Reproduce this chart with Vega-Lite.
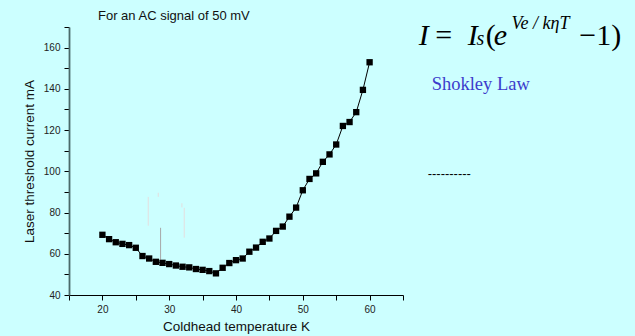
{
  "$schema": "https://vega.github.io/schema/vega-lite/v6.json",
  "autosize": {"type": "none"},
  "padding": {"left": 69, "top": 27, "right": 232, "bottom": 41},
  "width": 334,
  "height": 268,
  "background": "#ccffff",
  "title": {
    "text": "For an AC signal of 50 mV",
    "anchor": "start",
    "frame": "group",
    "dx": 29,
    "offset": -8,
    "font": "Liberation Sans",
    "fontSize": 13,
    "fontWeight": "normal",
    "color": "#111111"
  },
  "config": {
    "view": {"stroke": null},
    "axis": {
      "labelFont": "Liberation Sans",
      "titleFont": "Liberation Sans",
      "labelFontSize": 10,
      "titleFontSize": 13.5,
      "titleFontWeight": "normal",
      "labelColor": "#222222",
      "titleColor": "#111111",
      "grid": false,
      "tickSize": 5,
      "tickColor": "#000000",
      "domainColor": "#000000"
    }
  },
  "encoding": {
    "x": {
      "field": "T", "type": "quantitative",
      "title": "Coldhead temperature K",
      "scale": {"domain": [15, 65], "nice": false, "zero": false},
      "axis": {
        "values": [15, 20, 25, 30, 35, 40, 45, 50, 55, 60, 65],
        "labelExpr": "(datum.value % 10 == 0 && datum.value >= 20 && datum.value <= 60) ? datum.label : ''",
        "labelPadding": 4,
        "titlePadding": 5,
        "domainWidth": 1.2
      }
    },
    "y": {
      "field": "I", "type": "quantitative",
      "title": "Laser threshold current mA",
      "scale": {"domain": [40, 170], "nice": false, "zero": false},
      "axis": {
        "values": [40, 50, 60, 70, 80, 90, 100, 110, 120, 130, 140, 150, 160, 170],
        "labelExpr": "datum.value % 20 == 0 ? datum.label : ''",
        "labelPadding": 4,
        "titlePadding": 7,
        "domainColor": "#4a6a6a",
        "domainWidth": 1.8
      }
    }
  },
  "layer": [
    {
      "data": {"values": [
        {"T": 26.86, "I": 73.6, "I2": 87.6},
        {"T": 32.25, "I": 67.8, "I2": 82.3},
        {"T": 28.36, "I": 87.6, "I2": 89.6},
        {"T": 31.9, "I": 82.5, "I2": 84.5}
      ]},
      "mark": {"type": "rule", "color": "#e4dede", "strokeWidth": 1},
      "encoding": {"y2": {"field": "I2"}}
    },
    {
      "data": {"values": [
        {"T": 28.71, "I": 57.1, "I2": 72.6}
      ]},
      "mark": {"type": "rule", "color": "#a8a8a8", "strokeWidth": 1},
      "encoding": {"y2": {"field": "I2"}}
    },
    {
      "data": {"values": [
        {"T": 20, "I": 69.2}, {"T": 21, "I": 67.1}, {"T": 22, "I": 65.6}, {"T": 23, "I": 64.8},
        {"T": 24, "I": 64.2}, {"T": 25, "I": 62.9}, {"T": 26, "I": 58.9}, {"T": 27, "I": 57.7},
        {"T": 28, "I": 56.1}, {"T": 29, "I": 55.6}, {"T": 30, "I": 55.0}, {"T": 31, "I": 54.3},
        {"T": 32, "I": 53.7}, {"T": 33, "I": 53.4}, {"T": 34, "I": 52.6}, {"T": 35, "I": 52.2},
        {"T": 36, "I": 51.6}, {"T": 37, "I": 50.5}, {"T": 38, "I": 53.2}, {"T": 39, "I": 55.5},
        {"T": 40, "I": 56.9}, {"T": 41, "I": 57.7}, {"T": 42, "I": 61.0}, {"T": 43, "I": 63.0},
        {"T": 44, "I": 65.8}, {"T": 45, "I": 67.4}, {"T": 46, "I": 71.1}, {"T": 47, "I": 73.2},
        {"T": 48, "I": 78.0}, {"T": 49, "I": 82.4}, {"T": 50, "I": 90.8}, {"T": 51, "I": 96.3},
        {"T": 52, "I": 99.0}, {"T": 53, "I": 104.6}, {"T": 54, "I": 108.2}, {"T": 55, "I": 113.0},
        {"T": 56, "I": 122.0}, {"T": 57, "I": 123.9}, {"T": 58, "I": 128.7}, {"T": 59, "I": 139.5},
        {"T": 60, "I": 152.9}
      ]},
      "layer": [
        {"mark": {"type": "line", "color": "#000000", "strokeWidth": 1}},
        {"mark": {"type": "point", "shape": "square", "filled": true, "color": "#000000", "size": 40, "opacity": 1}}
      ]
    },
    {
      "data": {"values": [
        {"label": "I", "T": 67.35, "I": 161.3, "kind": "bigital"},
        {"label": "=", "T": 69.82, "I": 161.3, "kind": "big"},
        {"label": "I", "T": 74.68, "I": 161.3, "kind": "bigital"},
        {"label": "s", "T": 76.02, "I": 161.3, "kind": "subital"},
        {"label": "(", "T": 77.37, "I": 161.3, "kind": "big"},
        {"label": "e", "T": 78.57, "I": 161.3, "kind": "bigital"},
        {"label": "Ve / kηT", "T": 81.26, "I": 169.0, "kind": "supital"},
        {"label": "−1)", "T": 91.4, "I": 161.3, "kind": "big"}
      ]},
      "layer": [
        {
          "transform": [{"filter": "datum.kind == 'bigital'"}],
          "mark": {"type": "text", "align": "left", "baseline": "alphabetic", "font": "Liberation Serif", "fontStyle": "italic", "fontSize": 30, "color": "#000000"},
          "encoding": {"text": {"field": "label"}}
        },
        {
          "transform": [{"filter": "datum.kind == 'big'"}],
          "mark": {"type": "text", "align": "left", "baseline": "alphabetic", "font": "Liberation Serif", "fontSize": 30, "color": "#000000"},
          "encoding": {"text": {"field": "label"}}
        },
        {
          "transform": [{"filter": "datum.kind == 'subital'"}],
          "mark": {"type": "text", "align": "left", "baseline": "alphabetic", "font": "Liberation Serif", "fontStyle": "italic", "fontSize": 20, "color": "#000000"},
          "encoding": {"text": {"field": "label"}}
        },
        {
          "transform": [{"filter": "datum.kind == 'supital'"}],
          "mark": {"type": "text", "align": "left", "baseline": "alphabetic", "font": "Liberation Serif", "fontStyle": "italic", "fontSize": 18, "color": "#000000"},
          "encoding": {"text": {"field": "label"}}
        }
      ]
    },
    {
      "data": {"values": [
        {"label": "Shokley Law", "T": 69.29, "I": 139.5}
      ]},
      "mark": {"type": "text", "align": "left", "baseline": "alphabetic", "font": "Liberation Serif", "fontSize": 18.5, "color": "#3c3ccc"},
      "encoding": {"text": {"field": "label"}}
    },
    {
      "data": {"values": [
        {"label": "----------", "T": 68.69, "I": 98.8}
      ]},
      "mark": {"type": "text", "align": "left", "baseline": "middle", "font": "Liberation Sans", "fontSize": 13, "color": "#000000"},
      "encoding": {"text": {"field": "label"}}
    }
  ]
}
